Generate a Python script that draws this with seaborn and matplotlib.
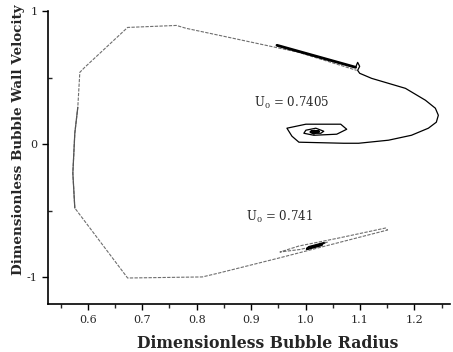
import matplotlib
matplotlib.use("Agg")
import matplotlib.pyplot as plt
from matplotlib.ticker import MultipleLocator, FixedLocator
import seaborn as sns
import pandas as pd

# Trajectory for U0 = 0.7405 (solid, spirals into fixed point)
r_a = [0.9475, 1.092, 1.0957, 1.0994, 1.0957, 1.0994, 1.1213, 1.1835, 1.2201, 1.2384,
       1.2439, 1.2402, 1.2256, 1.1945, 1.1524, 1.0975, 1.0701, 0.9878, 0.975, 0.9658,
       1.0006, 1.0646, 1.0756, 1.0573, 1.0152, 0.9969, 1.0006, 1.0189, 1.0335, 1.028,
       1.0152, 1.017, 1.010, 1.024, 1.015]
u_a = [0.742, 0.577, 0.614, 0.584, 0.554, 0.532, 0.494, 0.419, 0.330, 0.270,
       0.217, 0.165, 0.120, 0.067, 0.030, 0.007, 0.007, 0.015, 0.060, 0.120,
       0.150, 0.150, 0.112, 0.075, 0.067, 0.082, 0.105, 0.120, 0.097, 0.082,
       0.082, 0.097, 0.092, 0.095, 0.090]

# Trajectory for U0 = 0.741 (dashed, large excursion)
r_b = [1.0298, 1.0024, 1.006, 1.0335, 1.040, 1.015, 0.990, 0.953, 0.9878, 1.061,
       1.1469, 1.1506, 1.0792, 0.9512, 0.8415, 0.8104, 0.6732, 0.5762, 0.5726, 0.5762,
       0.5817, 0.5854, 0.5945, 0.6732, 0.7628, 0.7811, 0.8597, 0.9878, 1.0939]
u_b = [-0.757, -0.787, -0.772, -0.742, -0.735, -0.765, -0.790, -0.809, -0.764, -0.704,
       -0.629, -0.644, -0.719, -0.854, -0.966, -0.996, -1.004, -0.479, -0.217, 0.082,
       0.277, 0.539, 0.577, 0.876, 0.891, 0.869, 0.801, 0.689, 0.554]

labels = ["U$_0$ = 0.7405", "U$_0$ = 0.741"]
label_pos_r = [0.905, 0.891]
label_pos_u = [0.307, -0.547]

x_ticks = [0.6, 0.7, 0.8, 0.9, 1.0, 1.1, 1.2]
y_ticks = [-1, 0, 1]

sns.set_style("ticks")
plt.rcParams['font.family'] = ['DejaVu Serif']
plt.rcParams['mathtext.fontset'] = 'dejavuserif'

fig = plt.figure(figsize=(4.53, 3.52), dpi=100)
ax = fig.add_axes([0.106, 0.136, 0.887, 0.833])

df_a = pd.DataFrame({"r": r_a, "u": u_a})
df_b = pd.DataFrame({"r": r_b, "u": u_b})

sns.lineplot(data=df_b, x="r", y="u", sort=False, estimator=None, ax=ax,
             color="#6e6e6e", lw=0.8, linestyle=(0, (3, 1.2)))
sns.lineplot(data=df_b.iloc[17:21], x="r", y="u", sort=False, estimator=None, ax=ax,
             color="#555555", lw=0.9)
sns.lineplot(data=df_b.iloc[0:4], x="r", y="u", sort=False, estimator=None, ax=ax,
             color="black", lw=1.6)
sns.lineplot(data=df_a, x="r", y="u", sort=False, estimator=None, ax=ax,
             color="black", lw=0.9)
sns.lineplot(data=df_a.iloc[0:2], x="r", y="u", sort=False, estimator=None, ax=ax,
             color="black", lw=2.0)
sns.lineplot(data=df_a.iloc[30:], x="r", y="u", sort=False, estimator=None, ax=ax,
             color="black", lw=2.2)

for t, xr, yu in zip(labels, label_pos_r, label_pos_u):
    ax.text(xr, yu, t, fontsize=8.5, ha="left", va="center")

ax.set_xlim(0.527, 1.265)
ax.set_ylim(-1.2, 1.0)
ax.xaxis.set_major_locator(FixedLocator(x_ticks))
ax.xaxis.set_minor_locator(MultipleLocator(0.05))
ax.yaxis.set_major_locator(FixedLocator(y_ticks))
ax.yaxis.set_minor_locator(MultipleLocator(0.5))
ax.set_xticklabels([f"{v:.1f}" for v in x_ticks])
ax.set_yticklabels([str(v) for v in y_ticks])
ax.tick_params(axis="both", which="major", labelsize=8, length=4, width=1, direction="out", color="black")
ax.tick_params(axis="x", which="minor", length=3, width=1, direction="out")
ax.tick_params(axis="y", which="minor", length=3, width=1, direction="in")
for s in ["left", "bottom"]:
    ax.spines[s].set_color("black")
    ax.spines[s].set_linewidth(1.2)
sns.despine(ax=ax)

ax.set_xlabel("Dimensionless Bubble Radius", fontsize=11.3, fontweight="bold")
ax.set_ylabel("Dimensionless Bubble Wall Velocity", fontsize=9.7, fontweight="bold")
ax.xaxis.set_label_coords(0.547, -0.105)
ax.yaxis.set_label_coords(-0.058, 0.56)

fig.savefig("out.png", dpi=100)
